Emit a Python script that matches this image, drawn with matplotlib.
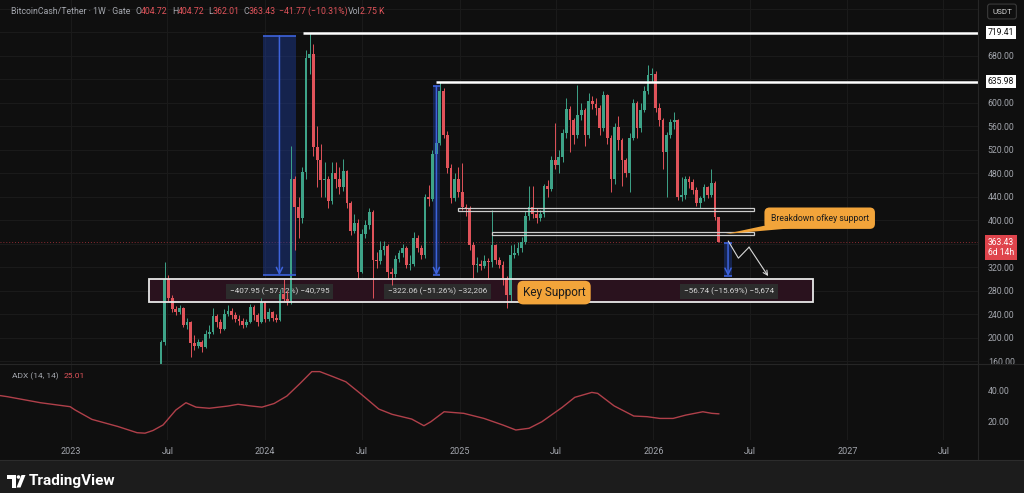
import pandas as pd
import matplotlib
matplotlib.use("Agg")
import matplotlib.pyplot as plt
import matplotlib.dates as mdates
from matplotlib.patches import Rectangle, Polygon, Circle
from matplotlib.transforms import blended_transform_factory

plt.rcParams['font.family'] = ['Roboto', 'DejaVu Sans']

# weekly candles BitcoinCash/Tether (Gate), first week 2023-06-19
start_week = "2023-06-19"
first_open = 110.0
closes = [192, 300, 268, 248, 244, 250, 222, 226, 190, 186,
          192, 184, 206, 210, 236, 226, 214, 240, 246, 238,
          232, 228, 222, 226, 252, 238, 226, 260, 232, 244,
          234, 230, 275, 266, 262, 470,
          422, 404, 482, 676, 684, 524, 502, 468, 470, 432,
          480, 470, 456, 484, 430, 382, 396, 312, 376, 392,
          414, 332, 330, 350, 356, 312, 308, 334, 344, 352,
          324, 326, 370, 352, 340, 440, 436, 512, 532, 620,
          545, 489, 437, 471, 448, 422, 420, 357, 323, 326,
          322, 330, 328, 357, 332, 324, 301, 272, 340, 344,
          352, 363, 408, 422, 410, 404, 410, 459, 453, 502,
          494, 508, 549, 590, 571, 545, 580, 588, 545, 604, 598,
          592, 557, 613, 540, 471, 558, 536, 502, 481, 540,
          599, 557, 588, 621, 647, 650, 591, 570, 516, 545,
          567, 570, 439, 443, 471, 465, 451, 429, 437, 456,
          443, 463, 404.72, 363.43]
highs = [196, 328, 306, 272, 254, 256, 252, 234, 228, 204,
         198, 196, 212, 222, 250, 240, 232, 248, 256, 250,
         244, 238, 234, 232, 258, 256, 242, 268, 262, 250,
         246, 240, 282, 300, 280, 527,
         475, 440, 490, 690, 719.41, 700, 560, 530, 500, 476,
         500, 500, 490, 505, 486, 432, 410, 402, 385, 400,
         420, 418, 345, 364, 364, 360, 318, 340, 350, 360,
         356, 340, 380, 375, 358, 445, 460, 520, 545, 635.98,
         625, 552, 495, 480, 490, 498, 428, 424, 362, 338,
         332, 340, 336, 418, 360, 338, 330, 305, 358, 360,
         362, 372, 415, 458, 458, 420, 418, 462, 468, 510,
         566, 520, 555, 609, 595, 575, 630, 600, 592, 616, 612,
         608, 596, 620, 615, 545, 565, 578, 540, 506, 548,
         606, 604, 600, 628, 664, 660, 655, 600, 575, 550,
         572, 584, 572, 473, 476, 476, 470, 456, 442, 462,
         458, 488, 467, 404.72]
lows = [105, 188, 262, 244, 238, 240, 218, 215, 166, 178,
        182, 176, 182, 200, 206, 218, 208, 212, 236, 232,
        226, 222, 216, 218, 224, 230, 220, 224, 226, 228,
        228, 226, 228, 262, 255, 258,
        350, 370, 396, 470, 650, 510, 456, 440, 440, 420,
        428, 455, 445, 450, 420, 375, 378, 300, 310, 370,
        385, 268, 318, 325, 340, 300, 290, 304, 328, 338,
        318, 315, 322, 345, 334, 336, 425, 432, 505, 528,
        540, 480, 430, 432, 440, 418, 408, 350, 300, 312,
        315, 318, 300, 320, 325, 318, 290, 250, 262, 335,
        340, 345, 360, 400, 404, 395, 398, 405, 440, 450,
        488, 481, 500, 540, 516, 530, 540, 570, 527, 540, 590,
        580, 546, 552, 530, 448, 462, 520, 459, 474, 448,
        536, 540, 550, 585, 615, 635, 585, 560, 488, 440,
        540, 555, 435, 432, 436, 455, 445, 424, 420, 432,
        438, 440, 400, 362.01]

# ADX (14, 14) read at turning points
adx_dates = ["2022-08-20", "2022-09-03", "2022-11-04", "2022-12-30", "2023-01-08",
             "2023-02-09", "2023-03-30", "2023-05-05", "2023-05-20", "2023-06-04",
             "2023-06-23", "2023-07-17", "2023-08-05", "2023-08-24", "2023-09-18",
             "2023-10-23", "2023-11-11", "2023-12-04", "2023-12-26", "2024-01-18",
             "2024-02-11", "2024-03-07", "2024-03-29", "2024-04-13", "2024-05-08",
             "2024-06-01", "2024-06-28", "2024-08-02", "2024-08-27", "2024-10-03",
             "2024-10-26", "2024-11-08", "2024-12-03", "2025-01-09", "2025-02-16",
             "2025-03-24", "2025-04-17", "2025-05-12", "2025-06-05", "2025-07-13",
             "2025-08-06", "2025-09-07", "2025-09-18", "2025-10-19", "2025-11-25",
             "2025-12-20", "2026-01-13", "2026-02-07", "2026-03-03", "2026-04-04",
             "2026-04-21", "2026-05-04"]
adx_values = [36.5, 35.8, 32.0, 29.5, 27.5, 21.5, 17.0, 13.1, 12.8, 14.5,
              18.0, 27.4, 32.0, 29.2, 28.5, 29.9, 31.0, 30.0, 29.2, 31.5,
              36.2, 44.2, 51.6, 51.6, 48.4, 45.2, 37.9, 28.0, 24.7, 21.7,
              17.5, 20.0, 26.3, 25.3, 22.1, 17.9, 14.8, 15.9, 20.0, 29.0,
              35.4, 38.5, 37.9, 30.0, 23.6, 23.2, 22.1, 22.1, 24.2, 26.3,
              25.3, 25.0]

time_ticks = ["2023-01-01", "2023-07-01", "2024-01-01", "2024-07-01", "2025-01-01",
              "2025-07-01", "2026-01-01", "2026-07-01", "2027-01-01", "2027-07-01"]
time_labels = ["2023", "Jul", "2024", "Jul", "2025", "Jul", "2026", "Jul", "2027", "Jul"]
price_ticks = [160, 200, 240, 280, 320, 400, 440, 480, 520, 560, 600, 680]
high_levels = [719.41, 635.98]
last_price = 363.43

BG = "#0f0f0f"
GRID = "#1b1b1b"
GRAY = "#a3a6ad"
UP = "#3ea388"
DOWN = "#e0535a"
ORANGE = "#f2a43a"
BLUE = "#3d63dc"


def d(s):
    return mdates.date2num(pd.Timestamp(s))


dates = mdates.date2num(pd.date_range(start_week, periods=len(closes), freq="7D"))
opens = [first_open] + closes[:-1]
colors = [UP if c >= o else DOWN for o, c in zip(opens, closes)]
body_low = [min(o, c) for o, c in zip(opens, closes)]
body_h = [max(abs(c - o), 1.5) for o, c in zip(opens, closes)]

fig = plt.figure(figsize=(10.24, 4.93), dpi=100)
fig.patch.set_facecolor(BG)

ax = fig.add_axes([0, 1 - 364 / 493, 978 / 1024, 364 / 493])
ax_adx = fig.add_axes([0, 1 - 440 / 493, 978 / 1024, 76 / 493], sharex=ax)
for a in (ax, ax_adx):
    a.set_facecolor(BG)
    for s in a.spines.values():
        s.set_visible(False)
    for t in time_ticks:
        a.axvline(d(t), color=GRID, lw=0.7, zorder=0)

ax.set_xlim(d("2022-08-20"), d("2027-09-04"))
ax.set_ylim(154.9, 775.3)
for lvl in range(160, 761, 40):
    ax.axhline(lvl, color=GRID, lw=0.7, zorder=0)

# key support zone
ks_x0, ks_x1 = d("2023-05-28"), d("2026-10-28")
ax.add_patch(Rectangle((ks_x0, 260.4), ks_x1 - ks_x0, 38.7, fc="#2a121e", ec="none", zorder=1))
ax.add_patch(Rectangle((ks_x0, 260.4), ks_x1 - ks_x0, 38.7, fc="none", ec="#e8e8e8", lw=1.3, zorder=4))

# measure tools
tools = [("2023-12-28", "2024-02-28", 714.2, 306.3, "2024-01-28", "\u2212407.95 (\u221257.12%) \u221240,795"),
         ("2024-11-12", "2024-11-25", 628.3, 306.2, "2024-11-20", "\u2212322.06 (\u221251.26%) \u221232,206"),
         ("2026-05-14", "2026-05-29", 361.6, 304.9, "2026-05-23", "\u221256.74 (\u221215.69%) \u22125,674")]
for x0, x1, top, bot, lx, label in tools:
    a0, a1 = d(x0), d(x1)
    ax.add_patch(Rectangle((a0, bot), a1 - a0, top - bot, fc="#1d3c9a", alpha=0.45, ec="none", zorder=2))
    ax.hlines([top, bot], a0, a1, color=BLUE, lw=1.2, zorder=4)
    xm = (a0 + a1) / 2
    ax.annotate("", xy=(xm, bot), xytext=(xm, top),
                arrowprops=dict(arrowstyle="->", color=BLUE, lw=1.1, mutation_scale=11,
                                shrinkA=0, shrinkB=0), zorder=4)
    ax.text(d(lx), 279.0, label, fontsize=5.9, color="#d6d6d6", ha="center", va="center",
            bbox=dict(boxstyle="square,pad=0.45", fc="#2c2c2c", ec="none"), zorder=2)

# broken support bands
for x0, lo, hi in [("2024-12-29", 415.8, 421.6), ("2025-03-03", 374.5, 380.1)]:
    ax.add_patch(Rectangle((d(x0), lo), d("2026-07-10") - d(x0), hi - lo,
                           fc="none", ec="#cdcdcd", lw=0.9, zorder=4))

# candles
ax.vlines(dates, lows, highs, colors=colors, lw=0.7, zorder=3)
ax.bar(dates, body_h, bottom=body_low, width=5.2, color=colors, zorder=3)

# horizontal levels from the tops
ax.hlines(high_levels[0], d("2024-03-12"), d("2027-09-04"), color="white", lw=1.8, zorder=4)
ax.hlines(high_levels[1], d("2024-11-18"), d("2027-09-04"), color="white", lw=1.8, zorder=4)
ax.axhline(last_price, color="#8a2a31", lw=0.7, ls=(0, (1, 2)), zorder=1)

# projected path
path_x = [d("2026-05-22"), d("2026-06-10"), d("2026-06-30"), d("2026-08-05")]
path_y = [364.3, 335.3, 354.0, 304.7]
ax.plot(path_x[:3], path_y[:3], color="#d8d8d8", lw=0.8, zorder=5)
ax.annotate("", xy=(path_x[3], path_y[3]), xytext=(path_x[2], path_y[2]),
            arrowprops=dict(arrowstyle="->", color="#d8d8d8", lw=0.8, mutation_scale=8,
                            shrinkA=0, shrinkB=0), zorder=5)

# callouts
ax.add_patch(Polygon([(d("2026-08-05"), 392.0), (d("2026-09-15"), 386.0), (d("2026-05-17"), 376.5)],
                     closed=True, fc=ORANGE, ec="none", zorder=6))
ax.text(d("2026-11-10"), 403.4, "Breakdown ofkey support", fontsize=6.2, color="#1b1b1b",
        ha="center", va="center", zorder=7,
        bbox=dict(boxstyle="round,pad=0.72,rounding_size=0.6", fc=ORANGE, ec="none"))
ax.text(d("2025-06-28"), 276.6, "Key Support", fontsize=8.5, color="#1b1b1b",
        ha="center", va="center", zorder=7,
        bbox=dict(boxstyle="round,pad=0.45,rounding_size=0.5", fc=ORANGE, ec="none"))

# price scale
ax.yaxis.tick_right()
ax.set_yticks(price_ticks)
ax.set_yticklabels([f"{v:.2f}" for v in price_ticks])
ax.tick_params(axis="y", length=0, pad=7, labelsize=6.3, labelcolor=GRAY)
ax.tick_params(axis="x", bottom=False, labelbottom=False)
tr = blended_transform_factory(ax.transAxes, ax.transData)
for lvl in high_levels:
    ax.text(1.0235, lvl, f"{lvl:.2f}", transform=tr, fontsize=6.2, color="#111111",
            ha="center", va="center", clip_on=False,
            bbox=dict(boxstyle="square,pad=0.25", fc="white", ec="none"))
ax.text(1.0235, 354.0, f"{last_price:.2f}\n6d 14h", transform=tr, fontsize=6.2, color="white",
        ha="center", va="center", clip_on=False, linespacing=1.15,
        bbox=dict(boxstyle="square,pad=0.35", fc="#df444c", ec="none"))

# ADX pane
ax_adx.plot(mdates.date2num(pd.to_datetime(adx_dates)), adx_values, color="#b0404a", lw=1.0)
ax_adx.set_ylim(8.5, 56.4)
ax_adx.yaxis.tick_right()
ax_adx.set_yticks([20, 40])
ax_adx.set_yticklabels(["20.00", "40.00"])
ax_adx.tick_params(axis="y", length=0, pad=7, labelsize=6.3, labelcolor=GRAY)
ax_adx.set_xticks([d(t) for t in time_ticks])
ax_adx.set_xticklabels(time_labels)
ax_adx.tick_params(axis="x", length=0, pad=5, labelsize=6.5, labelcolor=GRAY)
ax_adx.text(0.012, 0.84, "ADX (14, 14)", transform=ax_adx.transAxes, fontsize=6, color=GRAY, va="center")
ax_adx.text(0.065, 0.84, "25.01", transform=ax_adx.transAxes, fontsize=6, color=DOWN, va="center")

# frame, header and footer in pixel space
ov = fig.add_axes([0, 0, 1, 1], zorder=10)
ov.set_xlim(0, 1024)
ov.set_ylim(493, 0)
ov.axis("off")
ov.patch.set_alpha(0)
ov.add_patch(Rectangle((0, 460), 1024, 33, fc="#1c1c1c", ec="none"))
ov.plot([978, 978], [0, 460], color="#262626", lw=0.8)
ov.plot([0, 1024], [364, 364], color="#262626", lw=0.8)
ov.plot([0, 1024], [459.5, 459.5], color="#2c2c2c", lw=0.8)

header = [("BitcoinCash/Tether \u00b7 1W \u00b7 Gate", 11, GRAY), ("O", 136, GRAY), ("404.72", 141, DOWN),
          ("H", 172.5, GRAY), ("404.72", 178, DOWN), ("L", 208, GRAY), ("362.01", 213, DOWN),
          ("C", 243, GRAY), ("363.43", 248.5, DOWN), ("\u221241.77 (\u221210.31%)", 279, DOWN),
          ("Vol", 347.5, GRAY), ("2.75 K", 359.5, DOWN)]
for txt, x, col in header:
    ov.text(x, 11, txt, fontsize=6.3, color=col, va="center", ha="left")
ov.text(1002, 11.5, "USDT", fontsize=5.8, color="#d0d0d0", ha="center", va="center",
        bbox=dict(boxstyle="round,pad=0.55,rounding_size=0.3", fc=BG, ec="#3a3a3a", lw=0.8))

# TradingView logo
ov.add_patch(Polygon([(7, 475), (15.5, 475), (15.5, 487.5), (11.5, 487.5), (11.5, 478.5), (7, 478.5)],
                     closed=True, fc="white", ec="none"))
ov.add_patch(Circle((18.5, 477), 1.8, fc="white", ec="none"))
ov.add_patch(Polygon([(16.5, 487.5), (21.5, 475), (25.5, 475), (20.5, 487.5)], closed=True, fc="white", ec="none"))
ov.text(29, 481, "TradingView", fontsize=11, fontweight="bold", color="white", va="center", ha="left")

fig.savefig("out.png", dpi=100, facecolor=fig.get_facecolor())
